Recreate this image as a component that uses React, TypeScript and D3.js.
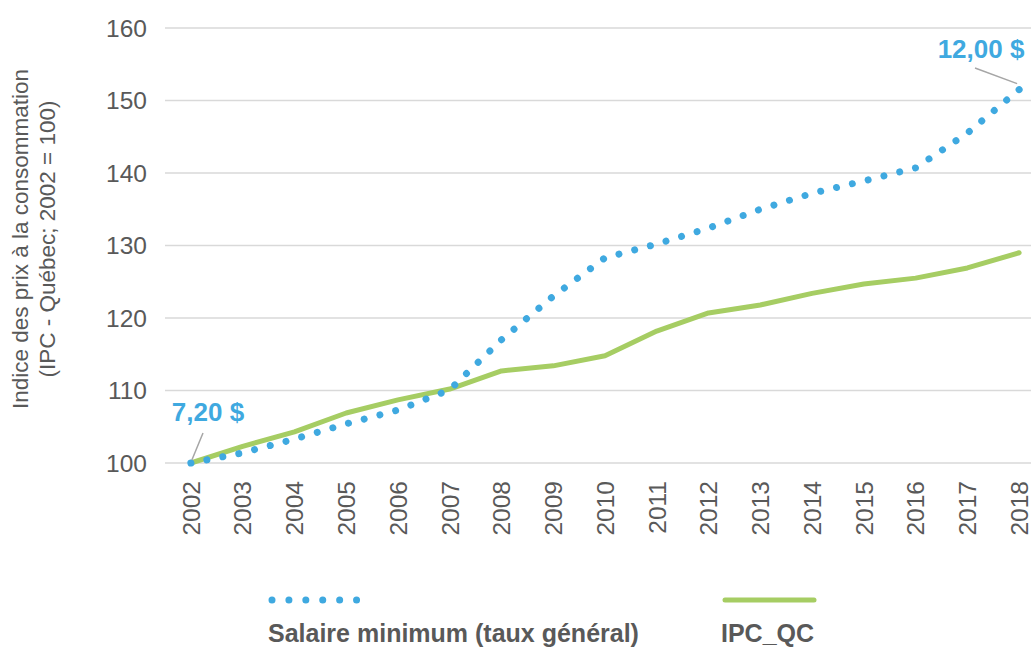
import React from 'react';
import * as d3 from 'd3';

const years = ['2002', '2003', '2004', '2005', '2006', '2007', '2008', '2009', '2010', '2011', '2012', '2013', '2014', '2015', '2016', '2017', '2018'];
const salaireMinimum = [100, 101.4, 103.3, 105.4, 107.3, 110.1, 117.0, 123.0, 128.3, 130.2, 132.4, 135.0, 137.2, 138.9, 140.7, 145.5, 151.5];
const ipcQc = [100, 102.3, 104.3, 106.9, 108.7, 110.2, 112.7, 113.4, 114.8, 118.2, 120.7, 121.8, 123.4, 124.7, 125.5, 126.9, 129.0];
const yTicks = [100, 110, 120, 130, 140, 150, 160];

const W = 1031;
const H = 648;
const FONT = '"Liberation Sans", Arial, sans-serif';
const BLUE = '#3fa9e0';
const GREEN = '#a6cd63';
const GREY = '#595959';

const App: React.FC = () => {
  const x = d3.scaleBand<string>().domain(years).range([165, 1045]);
  const y = d3.scaleLinear().domain([100, 160]).range([463, 28]);
  const cx = (d: string) => (x(d) ?? 0) + x.bandwidth() / 2;

  const line = d3.line<number>()
    .x((_, i) => cx(years[i]))
    .y(d => y(d));

  // spread the dots so that one sits on each end of the dotted line
  const pts = salaireMinimum.map((v, i) => [cx(years[i]), y(v)]);
  const len = d3.sum(pts.slice(1), (p, i) => Math.hypot(p[0] - pts[i][0], p[1] - pts[i][1]));
  const gap = len / Math.round(len / 16.3);

  const first = years[0];
  const last = years[years.length - 1];

  return (
    <div style={{ position: 'absolute', left: 0, top: 0 }}>
      <svg width={W} height={H} style={{ display: 'block', background: '#fff' }}>
        {/* grid */}
        {yTicks.map(t => (
          <g key={t}>
            <line x1={165} x2={W} y1={y(t)} y2={y(t)} stroke="#d9d9d9" strokeWidth={1.5} />
            <text x={147} y={y(t)} dy="0.36em" textAnchor="end" fontFamily={FONT} fontSize={24.5} fill={GREY}>{t}</text>
          </g>
        ))}

        {/* x labels */}
        {years.map(yr => (
          <text key={yr} transform={`translate(${cx(yr)},${481}) rotate(-90)`} textAnchor="end" dy="0.36em"
            fontFamily={FONT} fontSize={24.5} fill={GREY}>{yr}</text>
        ))}

        {/* y title */}
        <g transform="translate(0,239) rotate(-90)" fontFamily={FONT} fontSize={22.5} fill={GREY} textAnchor="middle">
          <text x={0} y={28}>Indice des prix à la consommation</text>
          <text x={0} y={55}>(IPC - Québec; 2002 = 100)</text>
        </g>

        {/* series */}
        <path d={line(ipcQc) ?? ''} fill="none" stroke={GREEN} strokeWidth={5} strokeLinejoin="round" strokeLinecap="round" />
        <path d={line(salaireMinimum) ?? ''} fill="none" stroke={BLUE} strokeWidth={7} strokeLinecap="round"
          strokeDasharray={`0.01 ${gap - 0.01}`} />

        {/* data labels */}
        <line x1={203} y1={433} x2={cx(first) + 1} y2={y(salaireMinimum[0]) - 3} stroke="#a6a6a6" strokeWidth={1.5} />
        <text x={208} y={421} textAnchor="middle" fontFamily={FONT} fontWeight="bold" fontSize={26} fill={BLUE}>7,20 $</text>
        <line x1={975} y1={68} x2={cx(last) - 2} y2={y(salaireMinimum[salaireMinimum.length - 1]) - 6} stroke="#a6a6a6" strokeWidth={1.5} />
        <text x={981} y={58} textAnchor="middle" fontFamily={FONT} fontWeight="bold" fontSize={26} fill={BLUE}>12,00 $</text>

        {/* legend */}
        <line x1={272} x2={358} y1={600} y2={600} stroke={BLUE} strokeWidth={7} strokeLinecap="round" strokeDasharray="0.01 16.9" />
        <line x1={725} x2={814} y1={600} y2={600} stroke={GREEN} strokeWidth={5} strokeLinecap="round" />
        <text x={268} y={642} fontFamily={FONT} fontWeight="bold" fontSize={25} fill={GREY}>Salaire minimum (taux général)</text>
        <text x={721} y={642} fontFamily={FONT} fontWeight="bold" fontSize={25} fill={GREY}>IPC_QC</text>
      </svg>
    </div>
  );
};

export default App;
